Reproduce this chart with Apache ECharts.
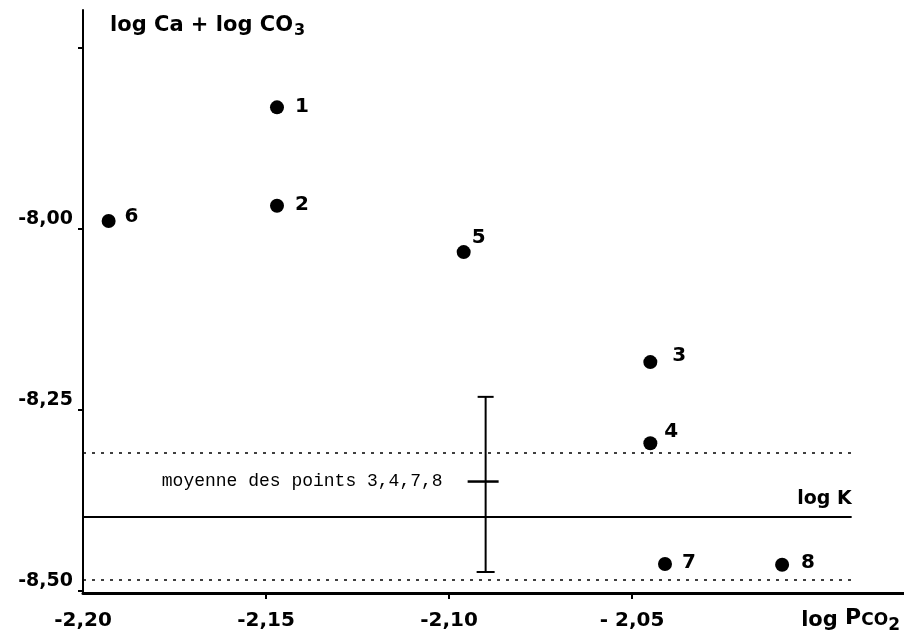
<!DOCTYPE html>
<html><head><meta charset="utf-8">
<script src="https://cdn.jsdelivr.net/npm/echarts@6/dist/echarts.min.js"></script>
<style>html,body{margin:0;padding:0;background:#fff}#c{width:904px;height:642px}</style>
</head><body><div id="c"></div>
<script>
// ---- data ----
const pointNames = ['1', '2', '3', '4', '5', '6', '7', '8'];
const logPCO2   = [-2.147, -2.147, -2.045, -2.045, -2.096, -2.193, -2.041, -2.009];
const logCaCO3  = [-7.832, -7.968, -8.184, -8.296, -8.032, -7.989, -8.463, -8.464];
const logK = -8.398;
const bandUpper = -8.309;
const bandLower = -8.485;
const lineStartX = -2.20;
const lineEndX = -1.990;
const meanX = -2.090;
const meanValue = -8.349;
const errTop = -8.232;
const errBottom = -8.474;
const meanText = 'moyenne des points 3,4,7,8';
const xTickValues = [-2.20, -2.15, -2.10, -2.05];
const xTickLabels = ['-2,20', '-2,15', '-2,10', '- 2,05'];
const xTickMarks = [-2.15, -2.10, -2.05];
const yTickValues = [-8.50, -8.25, -8.00];
const yTickLabels = ['-8,50', '-8,25', '-8,00'];
const yTickMarks = [-8.50, -8.25, -8.00, -7.75];

// ---- label placement (style only) ----
const labelPlace = {
  '1': {d: 11, off: [0, -1]}, '2': {d: 11, off: [0, -1]}, '3': {d: 15, off: [0, -6]},
  '4': {d: 7, off: [0, -11]}, '5': {d: 1, off: [0, -14]}, '6': {d: 9, off: [0, -4]},
  '7': {d: 10, off: [0, -1]}, '8': {d: 12, off: [0, -2]}
};

const FONT = 'DejaVu Sans';
const pts = pointNames.map((n, i) => ({
  name: n, value: [logPCO2[i], logCaCO3[i]],
  label: {distance: labelPlace[n].d, offset: labelPlace[n].off}
}));

const chart = echarts.init(document.getElementById('c'), null, {renderer: 'canvas'});
chart.setOption({
  animation: false,
  backgroundColor: '#fff',
  grid: {left: 83, right: 0, top: 10, bottom: 49},
  xAxis: {
    type: 'value', min: -2.20, max: -1.9757,
    splitLine: {show: false},
    axisLine: {onZero: false, lineStyle: {color: '#000', width: 3}},
    axisTick: {show: true, customValues: xTickMarks, length: 6, lineStyle: {color: '#000', width: 2}},
    axisLabel: {
      customValues: xTickValues, margin: 18, color: '#000',
      fontFamily: FONT, fontSize: 20, fontWeight: 'bold',
      formatter: v => { const i = xTickValues.findIndex(t => Math.abs(t - v) < 1e-6); return i >= 0 ? xTickLabels[i] : ''; }
    }
  },
  yAxis: {
    type: 'value', min: -8.503, max: -7.6975,
    splitLine: {show: false},
    axisLine: {onZero: false, lineStyle: {color: '#000', width: 2}},
    axisTick: {show: true, customValues: yTickMarks, length: 5, lineStyle: {color: '#000', width: 2}},
    axisLabel: {
      customValues: yTickValues, margin: 10, color: '#000', verticalAlign: 'bottom',
      fontFamily: FONT, fontSize: 19, fontWeight: 'bold',
      formatter: v => { const i = yTickValues.findIndex(t => Math.abs(t - v) < 1e-6); return i >= 0 ? yTickLabels[i] : ''; }
    }
  },
  series: [
    {
      type: 'scatter', symbol: 'circle', symbolSize: 14,
      itemStyle: {color: '#000', opacity: 1},
      label: {show: true, position: 'right', formatter: '{b}', color: '#000',
        fontFamily: FONT, fontSize: 20, fontWeight: 'bold'},
      data: pts,
      markLine: {
        silent: true, symbol: 'none', animation: false,
        data: [
          [{coord: [lineStartX, bandUpper], lineStyle: {type: [3, 6], width: 1.6, color: '#000'}}, {coord: [lineEndX, bandUpper]}],
          [{coord: [lineStartX, bandLower], lineStyle: {type: [3, 6], width: 1.6, color: '#000'}}, {coord: [lineEndX, bandLower]}],
          [{coord: [lineStartX, logK], lineStyle: {type: 'solid', width: 2, color: '#000'},
            label: {show: true, position: 'insideEndTop', formatter: 'log K', color: '#000',
              fontFamily: FONT, fontSize: 19, fontWeight: 'bold', distance: [0, 8]}},
           {coord: [lineEndX, logK]}]
        ],
        label: {show: false}
      }
    },
    {
      type: 'custom', silent: true,
      data: [[meanX, meanValue]],
      renderItem: function (params, api) {
        const t = api.coord([meanX, errTop]);
        const b = api.coord([meanX, errBottom]);
        const m = api.coord([meanX, meanValue]);
        const st = {stroke: '#000', lineWidth: 2};
        return {type: 'group', children: [
          {type: 'line', shape: {x1: t[0], y1: t[1], x2: b[0], y2: b[1]}, style: st},
          {type: 'line', shape: {x1: t[0] - 8, y1: t[1], x2: t[0] + 8, y2: t[1]}, style: st},
          {type: 'line', shape: {x1: b[0] - 9, y1: b[1], x2: b[0] + 9, y2: b[1]}, style: st},
          {type: 'line', shape: {x1: m[0] - 18, y1: m[1], x2: m[0] + 13, y2: m[1]}, style: {stroke: '#000', lineWidth: 2.5}},
          {type: 'text', style: {text: meanText, x: m[0] - 43, y: m[1], align: 'right', verticalAlign: 'middle',
            font: '18px "Liberation Mono"', fill: '#000'}}
        ]};
      }
    }
  ],
  graphic: [
    {type: 'text', left: 110, top: 15, style: {
      text: 'log Ca + log CO{s|3}', font: 'bold 21px "DejaVu Sans"', fill: '#000',
      rich: {s: {fontFamily: FONT, fontWeight: 'bold', fontSize: 16, padding: [10, 0, 0, 1], fill: '#000'}}
    }},
    {type: 'text', right: 4, top: 607, style: {
      text: 'log {p|P}{c|CO}{s|2}', font: 'bold 21px "DejaVu Sans"', fill: '#000',
      rich: {
        p: {fontFamily: FONT, fontWeight: 'bold', fontSize: 22, padding: [0, 0, 6, 0], fill: '#000'},
        c: {fontFamily: FONT, fontWeight: 'bold', fontSize: 17, fill: '#000'},
        s: {fontFamily: FONT, fontWeight: 'bold', fontSize: 17, padding: [10, 0, 0, 0], fill: '#000'}
      }
    }}
  ]
});
</script></body></html>
